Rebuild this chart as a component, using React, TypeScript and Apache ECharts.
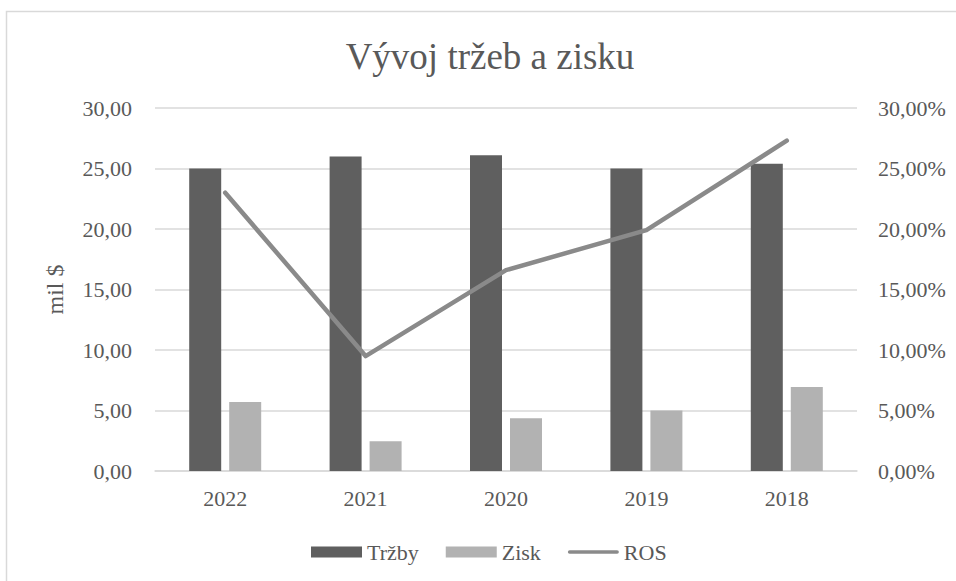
import React, { useEffect, useRef } from "react";
import * as echarts from "echarts";

const categories = ["2022", "2021", "2020", "2019", "2018"];
const trzby = [25.0, 26.0, 26.1, 25.0, 25.4];
const zisk = [5.7, 2.45, 4.35, 5.0, 6.95];
const ros = [23.0, 9.5, 16.6, 19.9, 27.3];

const FONT = "Liberation Serif";
const fmt = (v: number) => v.toFixed(2).replace(".", ",");

export default function App() {
  const ref = useRef<HTMLDivElement>(null);
  useEffect(() => {
    const chart = echarts.init(ref.current!, null, { renderer: "svg" });
    chart.setOption({
      animation: false,
      backgroundColor: "#ffffff",
      textStyle: { fontFamily: FONT },
      title: {
        text: "Vývoj tržeb a zisku",
        left: 485,
        textAlign: "center",
        top: 33,
        textStyle: { fontFamily: FONT, fontSize: 37, fontWeight: "normal", color: "#595959" },
      },
      graphic: [
        {
          type: "rect",
          shape: { x: 6.5, y: 11.5, width: 1000, height: 700 },
          style: { fill: "none", stroke: "#d9d9d9", lineWidth: 1.5 },
          silent: true,
        },
      ],
      legend: {
        bottom: 18,
        left: 311,
        padding: 0,
        itemWidth: 51,
        itemHeight: 11,
        itemGap: 27,
        textStyle: { fontFamily: FONT, fontSize: 22, color: "#595959" },
        data: [
          { name: "Tržby", icon: "rect" },
          { name: "Zisk", icon: "rect" },
          { name: "ROS", icon: "path://M2,0 L55,0 A2,2 0 0 1 55,4 L2,4 A2,2 0 0 1 2,0 Z" },
        ],
      },
      grid: { left: 155, right: 99, top: 108, bottom: 110 },
      xAxis: {
        type: "category",
        data: categories,
        axisLine: { lineStyle: { color: "#d9d9d9", width: 1.5 } },
        axisTick: { show: false },
        axisLabel: { fontFamily: FONT, fontSize: 22, color: "#595959", margin: 16 },
      },
      yAxis: [
        {
          type: "value",
          min: 0,
          max: 30,
          interval: 5,
          name: "mil $",
          nameLocation: "middle",
          nameGap: 88,
          nameTextStyle: { fontFamily: FONT, fontSize: 24, color: "#595959" },
          axisLine: { show: false },
          axisTick: { show: false },
          axisLabel: { fontFamily: FONT, fontSize: 22, color: "#595959", margin: 23, formatter: (v: number) => fmt(v) },
          splitLine: { lineStyle: { color: "#d9d9d9", width: 1.5 } },
        },
        {
          type: "value",
          min: 0,
          max: 30,
          interval: 5,
          position: "right",
          axisLine: { show: false },
          axisTick: { show: false },
          axisLabel: { fontFamily: FONT, fontSize: 22, color: "#595959", margin: 21, formatter: (v: number) => fmt(v) + "%" },
          splitLine: { show: false },
        },
      ],
      series: [
        {
          name: "Tržby",
          type: "bar",
          data: trzby,
          barWidth: 32,
          barGap: "25%",
          itemStyle: { color: "#5f5f5f" },
        },
        {
          name: "Zisk",
          type: "bar",
          data: zisk,
          barWidth: 32,
          barGap: "25%",
          itemStyle: { color: "#b2b2b2" },
        },
        {
          name: "ROS",
          type: "line",
          yAxisIndex: 1,
          data: ros,
          symbol: "none",
          lineStyle: { color: "#8a8a8a", width: 4.5, cap: "round", join: "round" },
          itemStyle: { color: "#8a8a8a" },
        },
      ],
    });
    return () => chart.dispose();
  }, []);
  return (
    <div
      ref={ref}
      style={{ position: "fixed", left: 0, top: 0, width: 956, height: 581 }}
    />
  );
}
